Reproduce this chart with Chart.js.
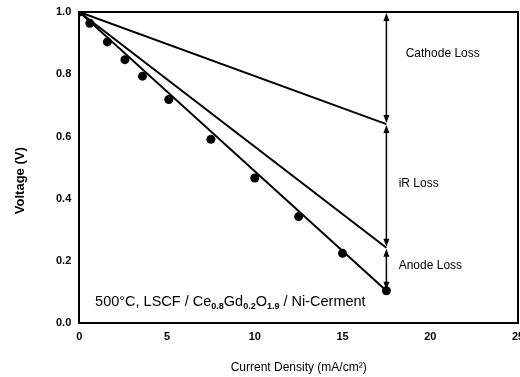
<!DOCTYPE html>
<html>
<head>
<meta charset="utf-8">
<script src="https://cdn.jsdelivr.net/npm/chart.js@4"></script>
<style>
  html, body { margin: 0; padding: 0; background: #fff; overflow: hidden; }
  #wrap { width: 520px; height: 377px; overflow: hidden; }
</style>
</head>
<body>
<div id="wrap"><canvas id="fcChart" width="530" height="377"></canvas></div>
<script>
// measured points (current density mA/cm2, voltage V)
var currentDensity = [0, 0.6, 1.6, 2.6, 3.6, 5.1, 7.5, 10, 12.5, 15, 17.5];
var measuredVoltage = [1.0, 0.964, 0.904, 0.847, 0.794, 0.719, 0.591, 0.467, 0.343, 0.225, 0.105];

// loss lines, start and end
var lineX = [0, 17.5];
var cathodeLine = [1.0, 0.64];
var iRLine = [1.0, 0.243];
var totalLine = [1.0, 0.105];

var xTicks = [0, 5, 10, 15, 20, 25];
var yTicks = [0.0, 0.2, 0.4, 0.6, 0.8, 1.0];

// text labels in data coords
var lossLabels = ['Cathode Loss', 'iR Loss', 'Anode Loss'];
var lossLabelX = [18.6, 18.2, 18.2];
var lossLabelY = [0.865, 0.448, 0.184];

function pts(xs, ys) {
  return xs.map(function(x, i) { return { x: x, y: ys[i] }; });
}

var FONT = '"Liberation Sans", Arial, sans-serif';

function arrowHead(ctx, x, y, dir) {
  ctx.beginPath();
  ctx.moveTo(x, y);
  ctx.lineTo(x - 3, y + dir * 8);
  ctx.lineTo(x + 3, y + dir * 8);
  ctx.closePath();
  ctx.fill();
}

var extras = {
  id: 'extras',
  afterDatasetsDraw: function(chart) {
    var ctx = chart.ctx;
    var xs = chart.scales.x, ys = chart.scales.y;
    var a = chart.chartArea;
    ctx.save();
    // frame top + right
    ctx.strokeStyle = '#000';
    ctx.lineWidth = 2;
    ctx.beginPath();
    ctx.moveTo(a.left, a.top);
    ctx.lineTo(a.right, a.top);
    ctx.lineTo(a.right, a.bottom);
    ctx.stroke();

    // double arrows at end of lines
    var ax = xs.getPixelForValue(lineX[1]);
    var levels = [cathodeLine[0], cathodeLine[1], iRLine[1], totalLine[1]];
    ctx.fillStyle = '#000';
    ctx.lineWidth = 1.5;
    for (var i = 0; i < levels.length - 1; i++) {
      var y1 = ys.getPixelForValue(levels[i]) + 1;
      var y2 = ys.getPixelForValue(levels[i + 1]) - 1;
      ctx.beginPath();
      ctx.moveTo(ax, y1 + 4);
      ctx.lineTo(ax, y2 - 4);
      ctx.stroke();
      arrowHead(ctx, ax, y1, 1);
      arrowHead(ctx, ax, y2, -1);
    }

    // loss labels
    ctx.font = '12px ' + FONT;
    ctx.textBaseline = 'middle';
    ctx.textAlign = 'left';
    for (var j = 0; j < lossLabels.length; j++) {
      ctx.fillText(lossLabels[j], xs.getPixelForValue(lossLabelX[j]), ys.getPixelForValue(lossLabelY[j]));
    }

    // condition label with subscripts
    var tx = xs.getPixelForValue(0.9), ty = ys.getPixelForValue(0.07);
    var parts = [
      ['500\u00b0C, LSCF / Ce', false], ['0.8', true], ['Gd', false], ['0.2', true],
      ['O', false], ['1.9', true], [' / Ni-Cerment', false]
    ];
    parts.forEach(function(p) {
      ctx.font = p[1] ? 'bold 9px ' + FONT : '14.5px ' + FONT;
      ctx.fillText(p[0], tx, p[1] ? ty + 5 : ty);
      tx += ctx.measureText(p[0]).width;
    });

    // y axis title, drawn by hand (sits a bit below centre in the original)
    ctx.translate(20, (a.top + a.bottom) / 2 + 13);
    ctx.rotate(-Math.PI / 2);
    ctx.textAlign = 'center';
    ctx.font = 'bold 13px ' + FONT;
    ctx.fillText('Voltage (V)', 0, 0);
    ctx.restore();
  }
};

var ctx = document.getElementById('fcChart').getContext('2d');
new Chart(ctx, {
  type: 'scatter',
  data: {
    datasets: [
      { data: pts(currentDensity, measuredVoltage), showLine: false, pointRadius: 4.5,
        backgroundColor: '#000', borderColor: '#000', pointBorderWidth: 0 },
      { data: pts(lineX, totalLine), showLine: true, pointRadius: 0, borderColor: '#000', borderWidth: 2 },
      { data: pts(lineX, iRLine), showLine: true, pointRadius: 0, borderColor: '#000', borderWidth: 2 },
      { data: pts(lineX, cathodeLine), showLine: true, pointRadius: 0, borderColor: '#000', borderWidth: 2 }
    ]
  },
  options: {
    responsive: false,
    animation: false,
    layout: { padding: { left: 52, right: 12, top: 12, bottom: 2 } },
    plugins: { legend: { display: false }, tooltip: { enabled: false } },
    scales: {
      x: {
        type: 'linear', min: 0, max: 25,
        afterBuildTicks: function(s) { s.ticks = xTicks.map(function(v) { return { value: v }; }); },
        grid: { display: false, drawTicks: true, tickLength: 4, tickColor: '#000', tickWidth: 1.5 },
        border: { display: true, color: '#000', width: 2 },
        ticks: { color: '#000', font: { family: FONT, size: 11, weight: 'bold' }, padding: 3, maxRotation: 0 },
        title: { display: true, text: 'Current Density (mA/cm\u00b2)', color: '#000',
                 font: { family: FONT, size: 12 }, padding: { top: 14, bottom: 0 } }
      },
      y: {
        type: 'linear', min: 0, max: 1,
        afterBuildTicks: function(s) { s.ticks = yTicks.map(function(v) { return { value: v }; }); },
        grid: { display: false, drawTicks: true, tickLength: 4, tickColor: '#000', tickWidth: 1.5 },
        border: { display: true, color: '#000', width: 2 },
        ticks: { color: '#000', font: { family: FONT, size: 11, weight: 'bold' }, padding: 4,
                 callback: function(v) { return v.toFixed(1); } },
        title: { display: false }
      }
    }
  },
  plugins: [extras]
});
</script>
</body>
</html>
